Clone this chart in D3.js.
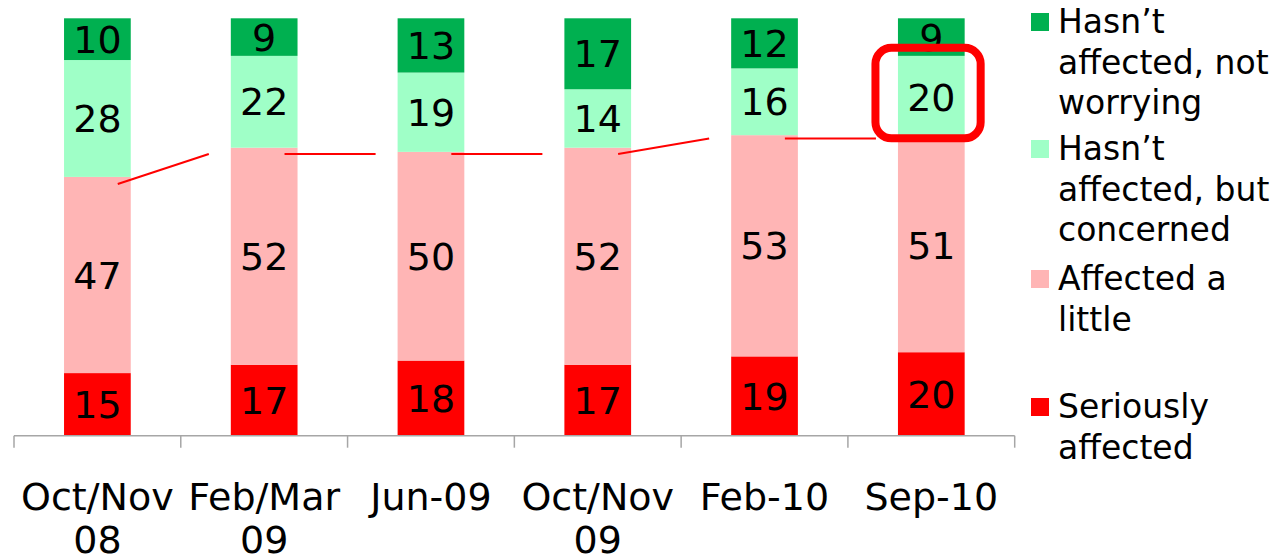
<!DOCTYPE html>
<html>
  <head>
    <meta http-equiv="Content-Type" content="text/html; charset=UTF-8" />
    <title>Impact of the recession</title>
    <style>
      body { margin: 0; background: #fff; }
      text { font-family: "DejaVu Sans", Verdana, sans-serif; fill: #000; }
    </style>
  </head>
  <body>
    <svg id="chart" width="1281" height="557"></svg>
    <script src="https://cdnjs.cloudflare.com/ajax/libs/d3/7.8.5/d3.min.js"></script>
    <script>
// data
const categories = ['Oct/Nov 08', 'Feb/Mar 09', 'Jun-09', 'Oct/Nov 09', 'Feb-10', 'Sep-10'];
const tickLines = [['Oct/Nov', '08'], ['Feb/Mar', '09'], ['Jun-09'], ['Oct/Nov', '09'], ['Feb-10'], ['Sep-10']];
const seriousValues = [15, 17, 18, 17, 19, 20];
const littleValues = [47, 52, 50, 52, 53, 51];
const concernedValues = [28, 22, 19, 14, 16, 20];
const notWorryingValues = [10, 9, 13, 17, 12, 9];
// levels of the hand drawn red trend line (same units as bars)
const trendLevels = [60.3, 67.5, 67.5, 67.5, 71.2, 71.2];
const highlightIndex = 5;

const series = [
  { key: 'serious', values: seriousValues, color: '#ff0000', legend: ['Seriously', 'affected'] },
  { key: 'little', values: littleValues, color: '#ffb5b5', legend: ['Affected a', 'little'] },
  { key: 'concerned', values: concernedValues, color: '#9fffc7', legend: ['Hasn\u2019t', 'affected, but', 'concerned'] },
  { key: 'notWorrying', values: notWorryingValues, color: '#00b050', legend: ['Hasn\u2019t', 'affected, not', 'worrying'] }
];

const svg = d3.select('#chart');

const x = d3.scaleBand().domain(categories).range([14, 1014.7]).padding(0);
const y = d3.scaleLinear().domain([0, 100]).range([435.7, 18.3]);
const barW = x.bandwidth() * 0.4;
const barX = c => x(c) + (x.bandwidth() - barW) / 2;

// build stack
const rows = categories.map((c, i) => {
  const r = { cat: c };
  series.forEach(s => r[s.key] = s.values[i]);
  return r;
});
const stack = d3.stack().keys(series.map(s => s.key))(rows);

const layers = svg.append('g').selectAll('g')
  .data(stack)
  .join('g')
  .attr('fill', (d, i) => series[i].color);

layers.selectAll('rect')
  .data(d => d)
  .join('rect')
  .attr('x', d => barX(d.data.cat))
  .attr('width', barW)
  .attr('y', d => y(d[1]))
  .attr('height', d => y(d[0]) - y(d[1]));

layers.selectAll('text')
  .data(d => d.map(v => ({ v, val: v[1] - v[0] })))
  .join('text')
  .attr('x', d => barX(d.v.data.cat) + barW / 2)
  .attr('y', d => (y(d.v[0]) + y(d.v[1])) / 2)
  .attr('dy', '0.36em')
  .attr('text-anchor', 'middle')
  .style('font-size', '38px')
  .text(d => d.val);

// axis: baseline with ticks at category boundaries
const axisG = svg.append('g');
const [r0, r1] = x.range();
axisG.append('line')
  .attr('x1', r0).attr('x2', r1)
  .attr('y1', y(0)).attr('y2', y(0))
  .attr('stroke', '#a6a6a6').attr('stroke-width', 1.5);
axisG.selectAll('line.tick')
  .data(categories.map(c => x(c)).concat([r1]))
  .join('line')
  .attr('class', 'tick')
  .attr('x1', d => d).attr('x2', d => d)
  .attr('y1', y(0)).attr('y2', y(0) + 12)
  .attr('stroke', '#a6a6a6').attr('stroke-width', 1.5);

axisG.selectAll('text')
  .data(categories)
  .join('text')
  .attr('text-anchor', 'middle')
  .attr('x', c => x(c) + x.bandwidth() / 2)
  .attr('y', 510)
  .style('font-size', '38px')
  .each(function (c, i) {
    d3.select(this).selectAll('tspan')
      .data(tickLines[i])
      .join('tspan')
      .attr('x', x(c) + x.bandwidth() / 2)
      .attr('dy', (t, j) => j === 0 ? 0 : 43)
      .text(t => t);
  });

// red trend line between bars
const trend = svg.append('g').attr('stroke', '#ff0000').attr('stroke-width', 2);
trend.selectAll('line')
  .data(d3.pairs(categories.map((c, i) => ({ c, level: trendLevels[i] }))))
  .join('line')
  .attr('x1', d => barX(d[0].c) + barW - 13)
  .attr('y1', d => y(d[0].level))
  .attr('x2', d => barX(d[1].c) - 22)
  .attr('y2', d => y(d[1].level));

// highlight box around the latest "concerned" value
const hc = categories[highlightIndex];
const base = seriousValues[highlightIndex] + littleValues[highlightIndex];
svg.append('rect')
  .attr('x', barX(hc) - 22.5)
  .attr('y', y(base + concernedValues[highlightIndex]) - 8)
  .attr('width', barW + 38.5)
  .attr('height', y(base) - y(base + concernedValues[highlightIndex]) + 7)
  .attr('rx', 16)
  .attr('fill', 'none')
  .attr('stroke', '#ff0000')
  .attr('stroke-width', 8);

// legend
const legendTop = [13, 140, 270, 398];
const legendSeries = series.slice().reverse();
const legend = svg.append('g');
legendSeries.forEach((s, i) => {
  const g = legend.append('g').attr('transform', `translate(1031,${legendTop[i]})`);
  g.append('rect').attr('width', 18).attr('height', 18).attr('fill', s.color);
  g.append('text')
    .style('font-size', '33px')
    .selectAll('tspan')
    .data(s.legend)
    .join('tspan')
    .attr('x', 27)
    .attr('y', (t, j) => 20 + j * 40.5)
    .text(t => t);
});
    </script>
  </body>
</html>
